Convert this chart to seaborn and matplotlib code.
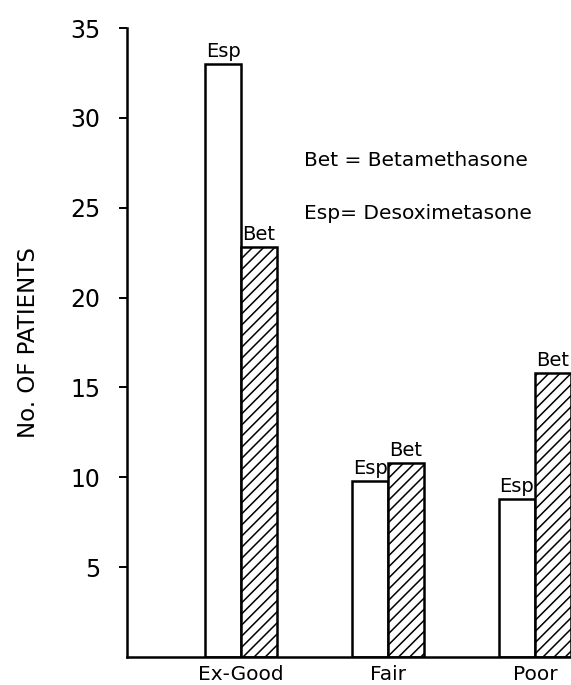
import matplotlib
matplotlib.use("Agg")
import matplotlib.pyplot as plt
import pandas as pd
import seaborn as sns

categories = ["Ex-Good", "Fair", "Poor"]
esp_values = [33.0, 9.8, 8.8]
bet_values = [22.8, 10.8, 15.8]
drugs = ["Esp", "Bet"]
legend_lines = ["Bet = Betamethasone", "Esp= Desoximetasone"]

df = pd.DataFrame({
    "response": categories * 2,
    "drug": ["Esp"] * 3 + ["Bet"] * 3,
    "patients": esp_values + bet_values,
})

sns.set_style("white")
plt.rcParams["font.family"] = ["DejaVu Sans"]
plt.rcParams["hatch.linewidth"] = 1.1
for key in ["text.color", "axes.labelcolor", "xtick.color", "ytick.color"]:
    plt.rcParams[key] = "black"

fig = plt.figure(figsize=(5.71, 6.85), dpi=100)
ax = fig.add_axes([127 / 571, 28 / 685, 444 / 571, 629 / 685])

sns.barplot(
    data=df, x="response", y="patients", hue="drug", hue_order=drugs,
    order=categories, palette=["white", "white"], edgecolor="black",
    linewidth=1.8, width=0.49, gap=0, legend=False, ax=ax,
)

for container, name in zip(ax.containers, drugs):
    if name == "Bet":
        for bar in container:
            bar.set_hatch("///")
    ax.bar_label(container, labels=[name] * len(container), padding=2, fontsize=14)

ax.set_xlim(-0.776, 2.245)
ax.set_ylim(0, 35)
ax.set_yticks([5, 10, 15, 20, 25, 30, 35])
ax.tick_params(axis="y", length=6, width=1.4, pad=13, labelsize=17, left=True)
ax.tick_params(axis="x", length=0, pad=6, labelsize=14.5)

ax.set_xlabel("")
ax.set_ylabel("No. OF PATIENTS", fontsize=16.5)
ax.yaxis.set_label_coords(-0.195, 0.5)

for side in ["top", "right"]:
    ax.spines[side].set_visible(False)
for side in ["left", "bottom"]:
    ax.spines[side].set_linewidth(1.8)
    ax.spines[side].set_color("black")

ax.text(0.43, 27.6, legend_lines[0], fontsize=14.5, va="center", ha="left")
ax.text(0.43, 24.7, legend_lines[1], fontsize=14.5, va="center", ha="left")

fig.savefig("out.png", dpi=100)
